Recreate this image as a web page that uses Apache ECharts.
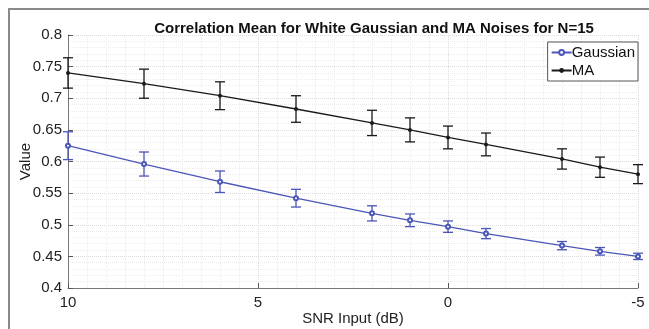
<!DOCTYPE html>
<html><head><meta charset="utf-8">
<script src="https://cdn.jsdelivr.net/npm/echarts@6/dist/echarts.min.js"></script>
<style>html,body{margin:0;padding:0;background:#fff;}#c{width:649px;height:329px;}</style>
</head><body><div id="c"></div>
<script>
var snr = [10, 8, 6, 4, 2, 1, 0, -1, -3, -4, -5];
var gaussMean = [0.625, 0.596, 0.568, 0.542, 0.518, 0.507, 0.497, 0.486, 0.467, 0.458, 0.450];
var gaussErr  = [0.022, 0.019, 0.017, 0.014, 0.012, 0.010, 0.009, 0.008, 0.0065, 0.006, 0.005];
var maMean = [0.740, 0.723, 0.704, 0.683, 0.661, 0.650, 0.638, 0.627, 0.604, 0.591, 0.580];
var maErr  = [0.024, 0.023, 0.022, 0.021, 0.020, 0.019, 0.018, 0.018, 0.016, 0.016, 0.015];
var yTicks = [0.4, 0.45, 0.5, 0.55, 0.6, 0.65, 0.7, 0.75, 0.8];

var gaussColor = '#4b56b9';
var maColor = '#1a1a1a';

function pairs(xs, ys){ return xs.map(function(x,i){return [x, ys[i]];}); }
function errData(xs, m, e){ return xs.map(function(x,i){return [x, m[i]-e[i], m[i]+e[i]];}); }
function errRender(color){
  return function(params, api){
    var x = api.value(0);
    var lo = api.coord([x, api.value(1)]);
    var hi = api.coord([x, api.value(2)]);
    var hw = 5;
    var st = {stroke: color, lineWidth: 1.3};
    return {type:'group', children:[
      {type:'line', shape:{x1:lo[0], y1:lo[1], x2:hi[0], y2:hi[1]}, style:st},
      {type:'line', shape:{x1:lo[0]-hw, y1:lo[1], x2:lo[0]+hw, y2:lo[1]}, style:st},
      {type:'line', shape:{x1:hi[0]-hw, y1:hi[1], x2:hi[0]+hw, y2:hi[1]}, style:st}
    ]};
  };
}

var chart = echarts.init(document.getElementById('c'), null, {renderer:'canvas'});
chart.setOption({
  animation:false,
  backgroundColor:'#fff',
  textStyle:{fontFamily:'Liberation Sans, Arial, sans-serif'},
  title:{text:'Correlation Mean for White Gaussian and MA Noises for N=15', left:369, textAlign:'center', top:16,
    textStyle:{fontSize:15, fontWeight:'bold', color:'#111', fontFamily:'Liberation Sans, Arial, sans-serif'}},
  graphic:[{type:'polyline', shape:{points:[[9,329],[9,9],[649,9]]}, style:{stroke:'#8a8a8a', lineWidth:2, fill:null}}],
  legend:{data:['Gaussian','MA'], orient:'vertical', right:11, top:42, itemWidth:20, itemHeight:6, itemGap:3,
    borderColor:'#555', borderWidth:1, padding:[3,3,3,3], backgroundColor:'#fff',
    textStyle:{fontSize:15, color:'#111', fontFamily:'Liberation Sans, Arial, sans-serif', padding:[0,0,0,-5]}},
  grid:{left:68, right:11, top:35, bottom:41, containLabel:false, outerBoundsMode:'none'},
  xAxis:{type:'value', inverse:true, min:-5, max:10, interval:5,
    name:'SNR Input (dB)', nameLocation:'middle', nameGap:23, nameMoveOverlap:false,
    nameTextStyle:{fontSize:15, color:'#222'},
    axisLine:{show:true, onZero:false, lineStyle:{color:'#777'}},
    axisTick:{show:true, inside:true, length:5, lineStyle:{color:'#555'}},
    axisLabel:{fontSize:15, color:'#222', margin:7},
    splitLine:{show:true, lineStyle:{color:'#dcdcdc', type:'dotted'}},
    minorTick:{show:false, splitNumber:10},
    minorSplitLine:{show:true, lineStyle:{color:'#ececec', type:'dotted'}}},
  yAxis:{type:'value', min:0.4, max:0.8, interval:0.05,
    name:'Value', nameLocation:'middle', nameGap:35, nameMoveOverlap:false,
    nameTextStyle:{fontSize:15, color:'#222'},
    axisLine:{show:true, onZero:false, lineStyle:{color:'#777'}},
    axisTick:{show:true, inside:true, length:5, lineStyle:{color:'#555'}},
    axisLabel:{fontSize:15, color:'#222', margin:6, formatter:function(v){
      var t = yTicks.find(function(k){return Math.abs(k-v)<1e-6;});
      return t===undefined ? '' : String(t);}},
    splitLine:{show:true, lineStyle:{color:'#dcdcdc', type:'dotted'}},
    minorTick:{show:false, splitNumber:5},
    minorSplitLine:{show:true, lineStyle:{color:'#ececec', type:'dotted'}}},
  series:[
    {name:'Gaussian', type:'line', data:pairs(snr, gaussMean), color:gaussColor,
      lineStyle:{width:1.3, color:gaussColor}, symbol:'emptyCircle', symbolSize:4,
      itemStyle:{color:gaussColor, borderColor:gaussColor, borderWidth:1}, z:3},
    {name:'MA', type:'line', data:pairs(snr, maMean), color:maColor,
      lineStyle:{width:1.3, color:maColor}, symbol:'circle', symbolSize:4,
      itemStyle:{color:maColor}, z:3},
    {name:'gErr', type:'custom', data:errData(snr, gaussMean, gaussErr), renderItem:errRender(gaussColor), z:2},
    {name:'mErr', type:'custom', data:errData(snr, maMean, maErr), renderItem:errRender(maColor), z:2}
  ]
});
</script></body></html>
